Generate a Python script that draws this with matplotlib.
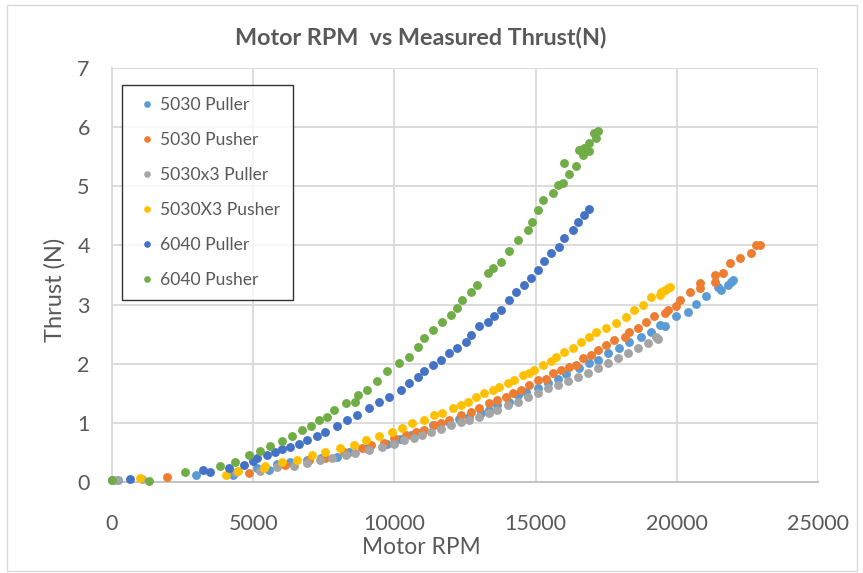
import matplotlib
matplotlib.use("Agg")
import matplotlib.pyplot as plt
from matplotlib.patches import Rectangle

plt.rcParams['font.family'] = ['Lato', 'DejaVu Sans']

# ---------------- data ----------------
series_names = ["5030 Puller", "5030 Pusher", "5030x3 Puller",
                "5030X3 Pusher", "6040 Puller", "6040 Pusher"]
series_colors = ["#5B9BD5", "#ED7D31", "#A5A5A5", "#FFC000", "#4472C4", "#70AD47"]

rpm_5030_puller = [0, 220, 2980, 4300, 5140, 5550, 5840, 6320, 6900, 7400, 7970, 8390,
                   9000, 9750, 10200, 10580, 11000, 11350, 11940, 12300, 12650, 13060,
                   13350, 13650, 14070, 14360, 14660, 15070, 15430, 15780, 16080, 16550,
                   16900, 17200, 17560, 17970, 18320, 18740, 19090, 19390, 19570, 19980,
                   20390, 20690, 21050, 21460, 21580, 21810, 21930, 22000]
thr_5030_puller = [0.03, 0.03, 0.12, 0.12, 0.23, 0.20, 0.30, 0.34, 0.37, 0.40, 0.43, 0.51,
                   0.57, 0.65, 0.72, 0.80, 0.86, 0.96, 1.02, 1.06, 1.10, 1.16,
                   1.22, 1.30, 1.36, 1.47, 1.53, 1.59, 1.67, 1.75, 1.82, 1.92,
                   2.01, 2.06, 2.18, 2.26, 2.37, 2.46, 2.54, 2.66, 2.63, 2.80,
                   2.88, 3.01, 3.14, 3.30, 3.25, 3.33, 3.39, 3.42]

rpm_5030_pusher = [1940, 4840, 6140, 6970, 7560, 8210, 8860, 9160, 9630, 9990, 10400,
                   10750, 11050, 11410, 11640, 11940, 12350, 12710, 13000, 13360, 13650,
                   13950, 14190, 14480, 14780, 15070, 15370, 15600, 15900, 16190, 16430,
                   16670, 16960, 17200, 17500, 17790, 18150, 18320, 18620, 18920, 19210,
                   19570, 19690, 19980, 20100, 20450, 20810, 20810, 21340, 21340, 21640,
                   21870, 22230, 22640, 22820, 22940]
thr_5030_pusher = [0.08, 0.15, 0.28, 0.37, 0.40, 0.51, 0.57, 0.63, 0.66, 0.74, 0.80,
                   0.84, 0.88, 0.97, 0.99, 1.05, 1.13, 1.19, 1.25, 1.33, 1.39,
                   1.44, 1.50, 1.56, 1.64, 1.73, 1.75, 1.84, 1.90, 1.95, 1.98,
                   2.09, 2.15, 2.23, 2.32, 2.40, 2.46, 2.54, 2.60, 2.71, 2.80,
                   2.85, 2.91, 2.97, 3.08, 3.22, 3.28, 3.36, 3.39, 3.50, 3.53,
                   3.70, 3.78, 3.87, 4.01, 4.01]

rpm_5030x3_puller = [0, 160, 1050, 4400, 5250, 5840, 6430, 6910, 7380, 7800, 8270, 8620,
                     9100, 9570, 9990, 10340, 10690, 10990, 11290, 11640, 12000, 12350,
                     12650, 13000, 13360, 13650, 14010, 14360, 14720, 15070, 15430, 15780,
                     16140, 16490, 16850, 17200, 17560, 17910, 18270, 18620, 18980, 19270,
                     19330]
thr_5030x3_puller = [0.03, 0.03, 0.05, 0.17, 0.18, 0.26, 0.27, 0.32, 0.37, 0.40, 0.46, 0.49,
                     0.54, 0.60, 0.65, 0.71, 0.75, 0.80, 0.85, 0.90, 0.96, 1.02,
                     1.05, 1.10, 1.16, 1.22, 1.30, 1.36, 1.44, 1.50, 1.59, 1.64,
                     1.70, 1.78, 1.84, 1.92, 2.01, 2.09, 2.18, 2.26, 2.35, 2.46,
                     2.42]

rpm_5030x3_pusher = [990, 4050, 4460, 5370, 5430, 6020, 6550, 7090, 7560, 8090, 8560,
                     8980, 9450, 9930, 10280, 10640, 11050, 11410, 11700, 12060, 12350,
                     12590, 12880, 13180, 13480, 13710, 14010, 14240, 14540, 14780, 14950,
                     15250, 15550, 15720, 16020, 16310, 16610, 16900, 17140, 17500, 17850,
                     18210, 18500, 18800, 19090, 19390, 19450, 19570, 19690, 19750]
thr_5030x3_pusher = [0.06, 0.12, 0.19, 0.24, 0.27, 0.33, 0.38, 0.46, 0.51, 0.57, 0.63,
                     0.71, 0.77, 0.85, 0.91, 0.99, 1.05, 1.13, 1.16, 1.25, 1.30,
                     1.36, 1.44, 1.50, 1.56, 1.61, 1.67, 1.73, 1.81, 1.84, 1.90,
                     1.98, 2.04, 2.12, 2.20, 2.26, 2.37, 2.46, 2.54, 2.60, 2.69,
                     2.79, 2.91, 3.00, 3.12, 3.16, 3.22, 3.25, 3.28, 3.30]

rpm_6040_puller = [640, 3240, 3480, 4130, 4660, 4990, 5140, 5490, 5780, 6020, 6320, 6610,
                   6910, 7260, 7560, 7970, 8330, 8680, 9100, 9450, 9810, 10220, 10500,
                   10820, 11040, 11350, 11640, 11930, 12230, 12530, 12700, 12990, 13300,
                   13520, 13770, 14060, 14300, 14600, 14840, 15070, 15300, 15550, 15830,
                   16010, 16310, 16490, 16720, 16900]
thr_6040_puller = [0.05, 0.20, 0.17, 0.23, 0.29, 0.36, 0.40, 0.45, 0.50, 0.56, 0.60, 0.65,
                   0.71, 0.77, 0.85, 0.94, 1.05, 1.13, 1.25, 1.36, 1.44, 1.56, 1.67,
                   1.78, 1.87, 1.98, 2.06, 2.18, 2.26, 2.37, 2.49, 2.63, 2.71,
                   2.80, 2.91, 3.08, 3.22, 3.33, 3.45, 3.59, 3.73, 3.87, 3.98,
                   4.12, 4.26, 4.40, 4.52, 4.61]

rpm_6040_pusher = [0, 1320, 2570, 3810, 4370, 4840, 5230, 5610, 6020, 6380, 6730, 7030,
                   7320, 7620, 7860, 8270, 8620, 8700, 9040, 9390, 9750, 10160, 10520,
                   10820, 11050, 11350, 11700, 12000, 12230, 12410, 12700, 12940, 13300,
                   13480, 13770, 14060, 14360, 14720, 14890, 15070, 15250, 15600, 15780,
                   15960, 16190, 16020, 16430, 16550, 16670, 16730, 16900, 16900, 17080,
                   17140, 17200]
thr_6040_pusher = [0.04, 0.02, 0.17, 0.27, 0.34, 0.45, 0.53, 0.61, 0.69, 0.77, 0.88, 0.94,
                   1.05, 1.10, 1.22, 1.33, 1.36, 1.47, 1.56, 1.70, 1.87, 2.01, 2.12,
                   2.29, 2.43, 2.57, 2.71, 2.83, 2.94, 3.08, 3.22, 3.33, 3.53,
                   3.62, 3.72, 3.90, 4.09, 4.26, 4.40, 4.60, 4.77, 4.88, 5.02,
                   5.05, 5.20, 5.39, 5.34, 5.62, 5.53, 5.65, 5.73, 5.59, 5.90,
                   5.82, 5.94]

x_ticks = [0, 5000, 10000, 15000, 20000, 25000]
y_ticks = [0, 1, 2, 3, 4, 5, 6, 7]

title_text = "Motor RPM  vs Measured Thrust(N)"
x_label = "Motor RPM"
y_label = "Thrust (N)"

all_rpm = [rpm_5030_puller, rpm_5030_pusher, rpm_5030x3_puller,
           rpm_5030x3_pusher, rpm_6040_puller, rpm_6040_pusher]
all_thr = [thr_5030_puller, thr_5030_pusher, thr_5030x3_puller,
           thr_5030x3_pusher, thr_6040_puller, thr_6040_pusher]

# ---------------- figure ----------------
W, H = 863, 573
fig = plt.figure(figsize=(W / 100, H / 100), dpi=100)
fig.patch.set_facecolor("white")

L, R, T, B = 112, 818, 68, 482
ax = fig.add_axes([L / W, 1 - B / H, (R - L) / W, (B - T) / H])

for xs, ys, name, col in zip(all_rpm, all_thr, series_names, series_colors):
    ax.plot(xs, ys, linestyle="none", marker="o", ms=6.4, mec="none",
            color=col, label=name, clip_on=False, zorder=3)

ax.set_xlim(0, 25000)
ax.set_ylim(0, 7)
ax.set_xticks(x_ticks)
ax.set_yticks(y_ticks)
ax.set_xticklabels([str(v) for v in x_ticks])
ax.set_yticklabels([str(v) for v in y_ticks])
ax.grid(True, color="#D9D9D9", linewidth=1.3, zorder=0)
ax.set_axisbelow(True)
for s in ["top", "right"]:
    ax.spines[s].set_visible(False)
ax.spines["left"].set_color("#D9D9D9")
ax.spines["bottom"].set_color("#BFBFBF")
ax.spines["left"].set_linewidth(1.3)
ax.spines["bottom"].set_linewidth(1.3)
ax.tick_params(axis="both", length=0, labelsize=15.5, labelcolor="#595959")
ax.tick_params(axis="x", pad=23)
ax.tick_params(axis="y", pad=16)

fig.text(421 / W, 1 - 37 / H, title_text, ha="center", va="center",
         fontsize=16.8, fontweight="bold", color="#595959")
fig.text(421 / W, 1 - 548 / H, x_label, ha="center", va="center",
         fontsize=16.4, color="#595959")
fig.text(55 / W, 1 - 290 / H, y_label, ha="center", va="center",
         rotation=90, fontsize=17, color="#595959")

leg = ax.legend(loc="upper left", bbox_to_anchor=(122 / W, 1 - 85 / H),
                bbox_transform=fig.transFigure, frameon=True, fancybox=False,
                fontsize=12.6, labelcolor="#595959", markerscale=0.75,
                handlelength=1.4, handletextpad=0.1, labelspacing=1.08,
                borderpad=0.7, borderaxespad=0)
leg.get_frame().set_edgecolor("#000000")
leg.get_frame().set_linewidth(1.0)

fig.patches.append(Rectangle((7 / W, 2 / H), (857 - 7) / W, (570 - 4) / H,
                             transform=fig.transFigure, fill=False,
                             edgecolor="#D9D9D9", linewidth=1.0))

fig.savefig("out.png", dpi=100)
